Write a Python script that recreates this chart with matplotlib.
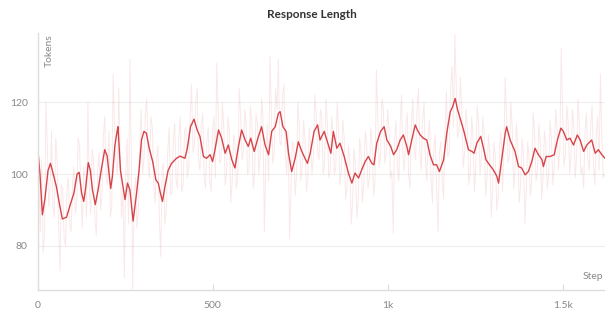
import matplotlib
matplotlib.use("Agg")
import matplotlib.pyplot as plt
import numpy as np

plt.rcParams['font.family'] = ['Lato', 'DejaVu Sans']

# smoothed curve (step, tokens)
smooth_steps = [0, 7, 14, 21, 30, 37, 45, 54, 62, 71, 83, 92, 104, 113, 119, 126, 132, 138,
                145, 151, 157, 165, 173, 183, 192, 199, 209, 214, 221, 228, 230, 237, 250, 257,
                264, 273, 283, 290, 297, 304, 311, 319, 329, 338, 345, 351, 357, 364, 373, 383,
                397, 407, 421, 428, 437, 447, 456, 464, 474, 483, 493, 500, 507, 517, 526, 536,
                545, 555, 564, 574, 583, 593, 602, 609, 619, 628, 640, 650, 660, 669, 679, 688,
                693, 701, 710, 717, 726, 736, 745, 755, 764, 771, 779, 790, 800, 807, 819, 828,
                838, 845, 855, 864, 876, 888, 898, 907, 917, 926, 936, 945, 955, 961, 969, 980,
                990, 998, 1009, 1017, 1026, 1036, 1045, 1055, 1060, 1069, 1079, 1085, 1093, 1102,
                1112, 1121, 1131, 1140, 1148, 1160, 1169, 1179, 1186, 1193, 1200, 1207, 1217,
                1224, 1231, 1241, 1247, 1255, 1266, 1274, 1281, 1291, 1302, 1312, 1317, 1326,
                1336, 1340, 1350, 1364, 1374, 1383, 1393, 1402, 1412, 1421, 1431, 1441, 1445,
                1453, 1464, 1476, 1485, 1495, 1502, 1512, 1521, 1531, 1542, 1550, 1560, 1569,
                1583, 1593, 1602, 1612, 1621]
smooth_vals = [108, 100, 88.7, 93, 101, 103, 100, 96.5, 92, 87.5, 88, 91, 94.7, 100, 100.5, 94.7,
               92.4, 96.5, 103.2, 101, 95.6, 91.5, 95.6, 101.7, 106.8, 105, 96, 99.4, 108, 112.3,
               113.2, 101, 92.9, 97.5, 95.6, 86.9, 94.7, 101, 109.5, 111.9, 111.4, 107.2, 103.5,
               98.4, 97.5, 94.7, 92.4, 96.5, 101, 103, 104.4, 105, 104.4, 107.2, 113.2, 115.3,
               112.3, 110.5, 104.9, 104.4, 105.4, 103.5, 106.8, 112.3, 110, 105.8, 108.1, 104,
               101.7, 107.7, 112.3, 109.5, 107.7, 110, 106.3, 109.5, 113.2, 108.1, 105.4, 111.9,
               113.2, 116.9, 117.4, 113.2, 111.9, 105.8, 100.7, 104.4, 109, 106.3, 104.4, 103,
               105.8, 111.9, 113.7, 109.5, 111.9, 109, 105.8, 111.9, 107.2, 108.6, 104.9, 100.3,
               97.5, 100.3, 98.9, 101.2, 103.5, 104.9, 103, 102.6, 108.6, 111.9, 113.2, 109.5,
               107.7, 105.4, 106.8, 109.5, 110.9, 107.7, 105.4, 109.5, 113.7, 112.3, 110.9, 110,
               109.5, 105.4, 102.6, 102.6, 100.7, 104, 111.4, 117.4, 118.8, 121.1, 117.9, 115.6,
               112.3, 109.5, 106.8, 106.3, 105.8, 108.6, 110.5, 107.2, 104, 102.6, 101.2, 99.4,
               97.5, 104, 111.4, 113.2, 109.5, 106.3, 102.1, 101.7, 99.8, 100.7, 103.5, 107.2,
               105.4, 104, 102.1, 104.9, 104.9, 105.4, 109.5, 112.8, 111.9, 109.5, 110, 108.1,
               110.9, 109.5, 106.3, 108.1, 109.5, 105.8, 106.8, 105.4, 104.4]

# raw (unsmoothed) values at steps 0, 8, 16, ...
raw_vals_a = [115, 84, 78, 120, 91, 112, 88, 104, 73, 96, 80, 99, 84, 102, 92, 108, 85, 99, 120, 89,
              104, 83, 106, 94, 116, 97, 88, 128, 104, 124, 88, 71, 110, 132, 68, 99, 90, 118, 104,
              121, 99, 113, 92, 108, 77, 103, 90, 113, 95, 114, 96, 116, 97, 113, 102, 125, 108,
              124, 101, 117, 96, 113, 95, 116, 131, 103, 120, 97, 116, 92, 111, 96, 124, 104, 118,
              100, 119, 96, 117, 100, 121, 84, 114, 133, 103, 124, 132, 108, 125, 100, 82, 109, 94,
              120, 98, 115, 95, 113, 100, 122, 106, 118, 100, 121, 99, 116, 100, 120, 97, 115, 93,
              108, 86, 107, 88, 110, 92, 112, 96, 113, 94, 129, 102, 121, 103, 118, 99, 83.6, 115,
              98, 122, 101, 117, 96, 121, 104, 124, 101, 120, 98, 115, 92, 111, 84, 109, 93, 123,
              106, 130, 139, 110, 127, 102, 118, 97, 116, 95, 119, 100, 116, 94, 111, 88, 109, 90,
              108, 95, 127, 103, 120, 96, 114, 92, 110, 86, 109, 94, 117, 98, 114, 93, 112, 96, 115,
              97, 118, 101, 135, 102, 119, 100, 118, 99, 121, 100, 96, 117, 101, 119, 97, 116, 128,
              99]
# raw values at steps 4, 12, 20, ...
raw_vals_b = [98, 104, 83, 108, 96, 91, 110, 86, 97, 82, 95, 86, 97, 89, 110, 94, 102, 88, 96, 107,
              87, 101, 90, 110, 99, 112, 91, 113, 100, 107, 96, 100, 86, 104, 95, 85, 108, 100, 117,
              103, 116, 97, 104, 88, 102, 86, 106, 94, 110, 98, 111, 95, 112, 99, 116, 106, 120,
              104, 114, 99, 110, 98, 112, 99, 118, 104, 113, 100, 112, 98, 109, 99, 117, 106, 114,
              101, 115, 100, 114, 105, 116, 103, 98, 117, 106, 118, 109, 122, 105, 112, 96, 108, 100,
              113, 102, 110, 98, 108, 105, 117, 104, 116, 103, 114, 101, 112, 102, 113, 101, 110, 96,
              104, 92, 103, 93, 106, 97, 109, 99, 108, 98, 115, 105, 118, 106, 113, 101, 110, 102,
              114, 104, 113, 100, 114, 107, 118, 106, 115, 104, 111, 99, 107, 96, 106, 98, 112, 105,
              124, 113, 125, 112, 118, 106, 113, 101, 111, 102, 114, 105, 111, 99, 106, 96, 104, 94,
              112, 106, 116, 105, 113, 101, 108, 97, 106, 95, 105, 99, 111, 101, 109, 99, 108, 100,
              110, 102, 113, 107, 117, 106, 114, 105, 113, 105, 114, 102, 112, 104, 113, 103, 111,
              101, 110, 100]

raw_steps = np.concatenate([np.arange(len(raw_vals_a)) * 8, np.arange(len(raw_vals_b)) * 8 + 4])
raw_vals = np.concatenate([raw_vals_a, raw_vals_b])
order = np.argsort(raw_steps)
raw_steps, raw_vals = raw_steps[order], raw_vals[order]

y_ticks = [80, 100, 120]
x_ticks = [0, 500, 1000, 1500]
x_labels = ["0", "500", "1k", "1.5k"]

red = "#d6444a"
grey = "#888888"

fig = plt.figure(figsize=(6.05, 3.10), dpi=100)
ax = fig.add_axes([0.062, 0.0655, 0.938, 0.828])

ax.plot(raw_steps, raw_vals, color=red, alpha=0.12, lw=0.7)
ax.plot(smooth_steps, smooth_vals, color=red, lw=1.0)

ax.set_xlim(0, 1621)
ax.set_ylim(67.8, 139.3)
ax.set_yticks(y_ticks)
ax.set_xticks(x_ticks)
ax.set_xticklabels(x_labels)
ax.grid(axis='y', color='#eeeeee', lw=0.8)
ax.set_axisbelow(True)
for s in ['top', 'right']:
    ax.spines[s].set_visible(False)
for s in ['left', 'bottom']:
    ax.spines[s].set_color('#dddddd')
    ax.spines[s].set_linewidth(1.0)
ax.tick_params(axis='x', direction='in', length=4, color='#dddddd', labelcolor=grey,
               labelsize=7.5, pad=8)
ax.tick_params(axis='y', length=0, labelcolor=grey, labelsize=7.5, pad=7)

fig.text(0.516, 0.952, "Response Length", ha='center', va='center', fontsize=8.5,
         fontweight='bold', color='#333333')
ax.text(0.012, 0.995, "Tokens", transform=ax.transAxes, rotation=90, ha='left', va='top',
        fontsize=7.5, color=grey)
ax.text(0.997, 0.035, "Step", transform=ax.transAxes, ha='right', va='bottom',
        fontsize=7.5, color=grey)

fig.savefig("out.png", dpi=100)
